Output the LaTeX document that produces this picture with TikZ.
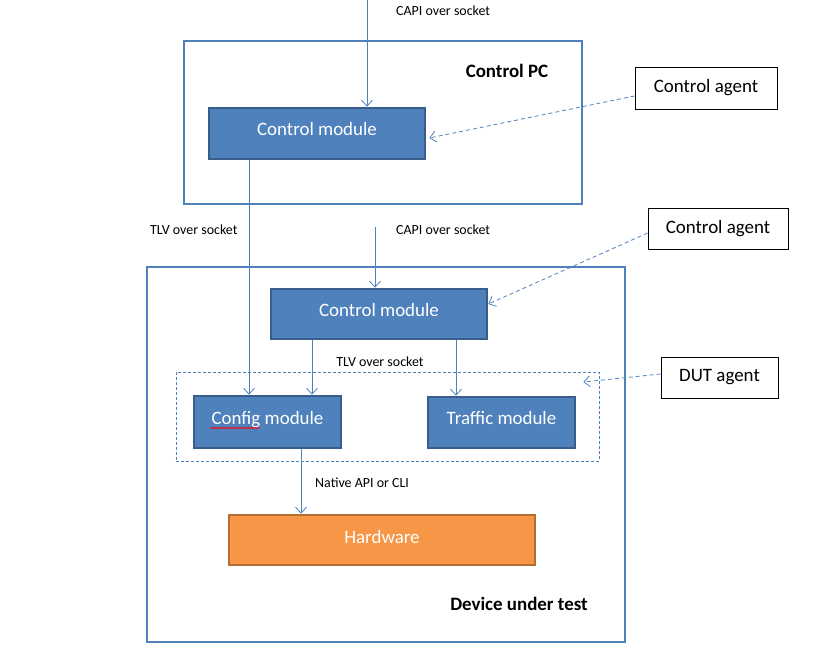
\documentclass[tikz,border=0pt]{standalone}
\usepackage{fontspec}
\setmainfont{Carlito}
\usetikzlibrary{arrows.meta,decorations.pathmorphing}
\definecolor{accblue}{RGB}{79,129,189}
\definecolor{darkblue}{RGB}{56,93,138}
\definecolor{orangefill}{RGB}{247,150,70}
\definecolor{orangeline}{RGB}{182,109,49}
\tikzset{
  outerbox/.style={draw=accblue,line width=2.6bp},
  modbox/.style={draw=darkblue,fill=accblue,line width=2.6bp,text=white,font=\fontsize{19}{22}\selectfont,inner sep=0pt,text height=10bp,text depth=6bp},
  hwbox/.style={draw=orangeline,fill=orangefill,line width=2.6bp,text=white,font=\fontsize{19}{22}\selectfont,inner sep=0pt,text height=11bp,text depth=5bp},
  agentbox/.style={draw=black,line width=0.8bp,fill=white,font=\fontsize{19}{22}\selectfont,inner sep=0pt},
  arr/.style={draw=accblue,line width=0.8bp,-{Straight Barb[length=6bp,width=11bp,line width=0.8bp]}},
  darr/.style={arr,dashed,dash pattern=on 4bp off 3bp},
  lbl/.style={font=\fontsize{14}{16}\selectfont,inner sep=0pt},
  ttl/.style={font=\bfseries\fontsize{19}{22}\selectfont,inner sep=0pt},
}
\begin{document}
\begin{tikzpicture}[x=1bp,y=-1bp]
\useasboundingbox (0,0) rectangle (823,665);
% outer boxes
\node[outerbox,minimum width=398bp,minimum height=163bp] (pc) at (383,122.5) {};
\node[outerbox,minimum width=478bp,minimum height=375bp] (dut) at (386,454.5) {};
\node[ttl] (pct) at (507,71) {Control PC};
\node[ttl] (dutt) at (519,604) {Device under test};
% dashed DUT agent region
\node[draw=accblue,dashed,dash pattern=on 3bp off 2bp,line width=0.7bp,minimum width=423bp,minimum height=89bp] (reg) at (387.5,416.5) {};
% modules
\node[modbox,minimum width=216bp,minimum height=51bp] (cm1) at (317,133.5) {Control module};
\node[modbox,minimum width=216bp,minimum height=50bp] (cm2) at (379,314) {Control module};
\node[modbox,minimum width=147bp,minimum height=52bp] (cfg) at (267.5,422) {Config module};
\node[modbox,minimum width=147bp,minimum height=51bp] (trf) at (501.5,422.5) {Traffic module};
\node[hwbox,minimum width=306bp,minimum height=50bp] (hw) at (382,540) {Hardware};
% agents
\node[agentbox,minimum width=142bp,minimum height=42bp] (ag1) at (706,88) {Control agent};
\node[agentbox,minimum width=140bp,minimum height=41bp] (ag2) at (718,228.5) {Control agent};
\node[agentbox,minimum width=117bp,minimum height=41bp] (ag3) at (719.5,377.5) {DUT agent};
% labels
\node[lbl,anchor=west] (l1) at (396,11) {CAPI over socket};
\node[lbl,anchor=west] (l2) at (150,230) {TLV over socket};
\node[lbl,anchor=west] (l3) at (396,230) {CAPI over socket};
\node[lbl] (l4) at (380,362) {TLV over socket};
\node[lbl,anchor=west] (l5) at (315,483) {Native API or CLI};
% helper coordinates
\coordinate (top) at (367,0);
\coordinate (xa) at (249,0);
\coordinate (xb) at (312,0);
\coordinate (xc) at (456,0);
\coordinate (xd) at (301,0);
\coordinate (capi2) at (375,227);
% arrows
\draw[arr] (top) -- (cm1.north -| top);
\draw[arr] (cm1.south -| xa) -- (cfg.north -| xa);
\draw[arr] (capi2) -- (cm2.north -| capi2);
\draw[arr] (cm2.south -| xb) -- (cfg.north -| xb);
\draw[arr] (cm2.south -| xc) -- (trf.north -| xc);
\draw[arr] (cfg.south -| xd) -- (hw.north -| xd);
\draw[darr] ([yshift=-8bp]ag1.west) -- ([yshift=-4.5bp,xshift=3bp]cm1.east);
\draw[darr] ([yshift=-4.5bp]ag2.west) -- ([yshift=10bp]cm2.east);
\draw[darr] ([yshift=3.5bp]ag3.west) -- ([yshift=34.5bp,xshift=-16bp]reg.east);
% spell-check squiggle under "Config"
\coordinate (sq1) at (210,428);
\coordinate (sq2) at (260,428);
\draw[red,line width=0.6bp,decorate,decoration={snake,amplitude=0.8bp,segment length=2.5bp}] (sq1) -- (sq2);
\end{tikzpicture}
\end{document}
